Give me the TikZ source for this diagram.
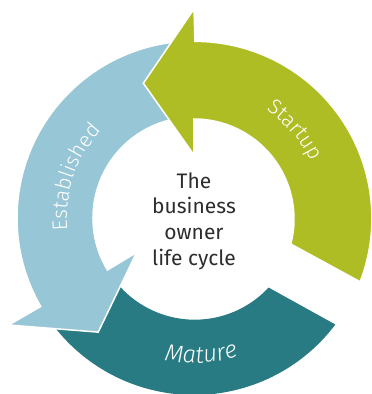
\documentclass[tikz,border=0pt]{standalone}
\usepackage{fontspec}
\setmainfont{Fira Sans}
\newfontfamily\thinfont{Fira Sans Light}
\usepackage{tikz}
\usetikzlibrary{decorations.text}
\definecolor{startupgreen}{RGB}{175,189,37}
\definecolor{establishedblue}{RGB}{151,199,214}
\definecolor{maturegreen}{RGB}{40,123,130}
\definecolor{centertext}{RGB}{45,45,45}
\tikzset{
    %Define style for the ring segments
    segment/.style={
           draw=white,
           line width=1.5pt,
           line join=miter},
    %Define style for the curved labels on the ring
    phaselabel/.style={
           decorate,
           decoration={text along path,
                       text align=center,
                       text color=white,
                       text={#1}}},
    %Define style for the text in the middle
    hub/.style={
           text=centertext,
           align=center,
           inner sep=0pt,
           font=\fontsize{21}{25.7}\selectfont}
}
\newcommand{\ringfont}{\thinfont\fontsize{21}{24}\selectfont}
\begin{document}
\begin{tikzpicture}
\useasboundingbox (-194pt,-176pt) rectangle (178pt,218pt);

 %segments
\fill[maturegreen] (212:177pt) arc[start angle=212, end angle=323, radius=177pt]
    -- (317:102pt) arc[start angle=317, end angle=212, radius=101pt] -- cycle;
\filldraw[segment, fill=establishedblue] (95:177pt) arc[start angle=95, end angle=210, radius=177pt]
    -- (210:214pt) -- (230:149pt) -- (211:67pt) -- (211:101pt)
    arc[start angle=211, end angle=95, radius=101pt] -- cycle;
\filldraw[segment, fill=startupgreen] (-21:178pt) arc[start angle=-21, end angle=90, radius=177pt]
    -- (90:209pt) -- (110.6:144pt) -- (90:63pt) -- (90:99pt)
    arc[start angle=90, end angle=-14.5, radius=100pt] -- cycle;

 %labels
\path[phaselabel={|\ringfont|Startup}] (71:130pt) arc[start angle=71, end angle=11, radius=130pt];
\path[phaselabel={|\ringfont|Established}] (191:127pt) arc[start angle=191, end angle=131, radius=127pt];
\path[phaselabel={|\thinfont\itshape\fontsize{24}{27}\selectfont|Mature}] (-117:145pt) arc[start angle=-117, end angle=-57, radius=145pt];
\node[hub] (hub) at (0,-3pt) {The\\business\\owner\\life cycle};
\end{tikzpicture}
\end{document}
